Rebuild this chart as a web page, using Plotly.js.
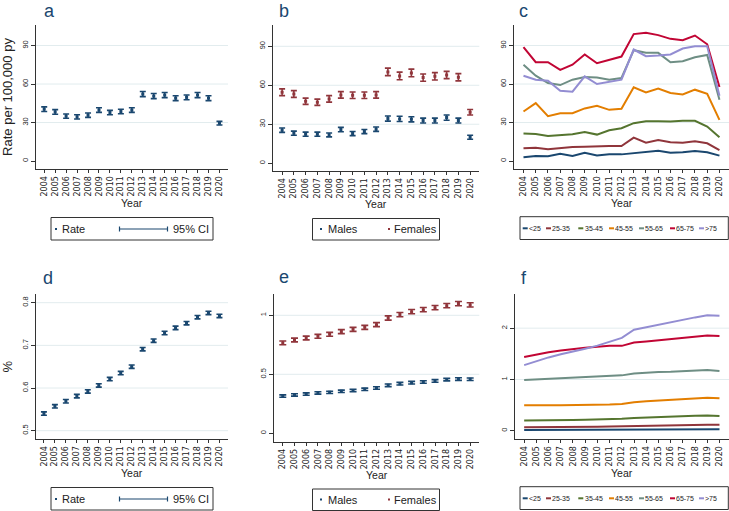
<!DOCTYPE html>
<html><head><meta charset="utf-8">
<script src="https://cdn.plot.ly/plotly-3.0.1.min.js"></script>
<style>html,body{margin:0;padding:0;background:#fff}#chart{width:729px;height:511px}</style>
</head><body><div id="chart"></div>
<script>
// ---------- data ----------
const years = [2004,2005,2006,2007,2008,2009,2010,2011,2012,2013,2014,2015,2016,2017,2018,2019,2020];
const yearLabels = years.map(String);

// panel a: overall rate per 100,000 py
const rateA = [40.4,38.3,35.0,34.4,35.7,39.7,37.8,38.6,39.7,52.2,50.6,51.4,49.0,49.6,51.4,49.0,29.5];
const ciA   = [1.8,1.8,1.7,1.7,1.7,1.8,1.7,1.7,1.8,2.0,2.0,2.0,1.9,1.9,2.0,1.9,1.4];

// panel b: by sex
const malesB     = [25.4,23.1,22.3,22.3,21.8,25.9,22.8,24.4,26.2,34.4,34.1,33.8,32.8,32.8,35.1,32.8,20.0];
const ciMalesB   = [1.7,1.6,1.6,1.6,1.5,1.7,1.6,1.6,1.7,2.0,2.0,2.0,1.9,1.9,2.0,1.9,1.5];
const femalesB   = [54.6,53.3,47.7,46.9,49.5,52.6,52.3,52.3,52.6,70.3,67.2,69.5,65.9,66.9,67.9,66.2,39.2];
const ciFemalesB = [2.6,2.6,2.4,2.4,2.5,2.5,2.5,2.5,2.5,2.9,2.9,2.9,2.8,2.8,2.8,2.8,2.1];

// panel c: by age group
const ageGroups = ['<25','25-35','35-45','45-55','55-65','65-75','>75'];
const c_lt25  = [2.9,3.9,3.7,5.7,3.9,6.5,4.4,5.2,5.2,6.3,7.3,8.1,6.5,6.8,7.8,6.8,4.2];
const c_25_35 = [9.9,10.4,9.1,10.2,11.0,11.2,11.7,11.7,11.7,18.3,14.3,16.4,14.6,14.3,15.4,13.8,8.6];
const c_35_45 = [21.4,21.1,19.6,20.1,20.9,22.7,20.6,24.0,25.6,29.5,31.0,31.0,30.8,31.3,31.3,26.9,18.5];
const c_45_55 = [38.6,45.1,35.0,37.3,37.3,41.0,43.0,39.9,40.7,57.4,53.5,56.4,53.0,51.9,55.6,52.4,32.1];
const c_55_65 = [75.1,66.5,60.8,59.2,63.4,65.5,65.0,63.4,64.7,86.4,84.3,84.3,77.0,77.7,80.9,82.7,47.7];
const c_65_75 = [88.7,77.0,77.0,71.0,75.1,83.0,76.2,79.0,81.4,98.9,99.9,98.1,95.2,94.2,97.8,91.0,57.7];
const c_gt75  = [66.5,63.4,62.6,54.8,54.0,66.0,60.0,61.6,63.4,86.9,81.7,82.2,83.0,87.7,89.5,89.5,50.9];

// panel d: overall %
const rateD = [0.540,0.557,0.569,0.581,0.592,0.606,0.621,0.635,0.650,0.691,0.711,0.729,0.741,0.752,0.766,0.776,0.769];
const ciD   = [0.004,0.004,0.004,0.004,0.004,0.004,0.004,0.004,0.004,0.004,0.004,0.004,0.004,0.004,0.004,0.004,0.004];

// panel e: % by sex
const malesE     = [0.316,0.325,0.333,0.342,0.347,0.356,0.362,0.373,0.384,0.407,0.421,0.429,0.435,0.444,0.455,0.460,0.458];
const ciMalesE   = [0.010,0.010,0.010,0.010,0.010,0.010,0.010,0.010,0.010,0.011,0.011,0.011,0.011,0.011,0.011,0.011,0.011];
const femalesE   = [0.766,0.791,0.808,0.822,0.839,0.862,0.881,0.898,0.921,0.977,1.006,1.031,1.048,1.065,1.082,1.099,1.088];
const ciFemalesE = [0.016,0.016,0.016,0.016,0.016,0.017,0.017,0.017,0.017,0.018,0.018,0.018,0.018,0.018,0.018,0.018,0.018];

// panel f: % by age group
const f_lt25  = [0.015,0.015,0.016,0.017,0.018,0.018,0.019,0.02,0.02,0.022,0.023,0.024,0.025,0.026,0.027,0.028,0.028];
const f_25_35 = [0.07,0.07,0.07,0.075,0.075,0.08,0.08,0.085,0.09,0.10,0.105,0.11,0.115,0.115,0.12,0.12,0.12];
const f_35_45 = [0.20,0.20,0.20,0.205,0.21,0.215,0.22,0.23,0.235,0.25,0.26,0.275,0.28,0.29,0.295,0.30,0.29];
const f_45_55 = [0.50,0.505,0.50,0.50,0.50,0.50,0.505,0.51,0.52,0.555,0.575,0.59,0.605,0.615,0.63,0.645,0.635];
const f_55_65 = [0.99,1.00,1.01,1.02,1.03,1.045,1.06,1.07,1.08,1.115,1.135,1.145,1.15,1.16,1.17,1.185,1.165];
const f_65_75 = [1.44,1.49,1.53,1.565,1.595,1.62,1.64,1.655,1.655,1.72,1.74,1.765,1.79,1.81,1.83,1.855,1.845];
const f_gt75  = [1.28,1.36,1.43,1.49,1.54,1.60,1.66,1.73,1.81,1.97,2.02,2.07,2.12,2.16,2.21,2.25,2.24];

const ticksRate = [0,30,60,90];
const ticksD = [0.5,0.6,0.7,0.8];
const ticksE = [0,0.5,1];
const ticksF = [0,1,2];
const gridRate = [30,60,90];
const gridD = [0.5,0.6,0.7,0.8];
const gridE = [0.5,1];
const gridF = [1,2];

// ---------- style ----------
const NAVY='#1a476f', MAROON='#90353b';
const ageColors = ['#1a476f','#90353b','#55752f','#e37e00','#6e8e84','#c10534','#938dd2'];
const W=729, H=511;
const px = x => x/W, py = y => 1 - y/H;
const FONT = 'Liberation Sans, Arial, Helvetica, sans-serif';
const AX = '#333';

function xax(x0, x1, anchor){
  return {domain:[px(x0),px(x1)], anchor:anchor, range:[2003.25,2020.78],
    tickmode:'array', tickvals:years, ticktext:yearLabels, tickangle:-90,
    tickfont:{family:'DejaVu Sans, sans-serif', size:8, color:'#222'},
    ticks:'outside', ticklen:3, tickcolor:AX, tickwidth:1,
    showline:true, linecolor:AX, linewidth:1, showgrid:false, zeroline:false,
    title:{text:''}, fixedrange:true};
}
function yax(top, bottom, anchor, range, tv, title){
  return {domain:[py(bottom),py(top)], anchor:anchor, range:range,
    tickmode:'array', tickvals:tv, ticktext:tv.map(v=>String(v)), tickangle:-90,
    tickfont:{family:FONT, size:7.5, color:'#222'},
    ticks:'outside', ticklen:4, tickcolor:AX, tickwidth:1,
    showline:true, linecolor:AX, linewidth:1, showgrid:false, zeroline:false,
    title:{text:title||'', font:{family:FONT, size:13, color:'#222'}, standoff:9}, fixedrange:true};
}

function errTrace(y, ci, color, xa, ya, capw){
  return {type:'scatter', mode:'markers', x:years, y:y, xaxis:xa, yaxis:ya,
    marker:{color:color, size:3, symbol:'square'},
    error_y:{type:'data', array:ci, visible:true, color:color, thickness:1.6, width:capw||3},
    hoverinfo:'x+y', showlegend:false};
}
function lineTrace(y, color, xa, ya){
  return {type:'scatter', mode:'lines', x:years, y:y, xaxis:xa, yaxis:ya,
    line:{color:color, width:2}, showlegend:false};
}

const traces = [
  errTrace(rateA, ciA, NAVY, 'x', 'y'),
  errTrace(malesB, ciMalesB, NAVY, 'x2', 'y2'),
  errTrace(femalesB, ciFemalesB, MAROON, 'x2', 'y2'),
];
const cSeries = [c_lt25,c_25_35,c_35_45,c_45_55,c_55_65,c_65_75,c_gt75];
cSeries.forEach((s,i)=>traces.push(lineTrace(s, ageColors[i], 'x3', 'y3')));
traces.push(errTrace(rateD, ciD, NAVY, 'x4', 'y4'));
traces.push(errTrace(malesE, ciMalesE, NAVY, 'x5', 'y5', 3.5));
traces.push(errTrace(femalesE, ciFemalesE, MAROON, 'x5', 'y5', 3.5));
const fSeries = [f_lt25,f_25_35,f_35_45,f_45_55,f_55_65,f_65_75,f_gt75];
fSeries.forEach((s,i)=>traces.push(lineTrace(s, ageColors[i], 'x6', 'y6')));

const shapes = [];
const annotations = [];

// gridlines (not drawn at 0)
function grid(vals, xa, ya){
  vals.forEach(v=>shapes.push({type:'line', layer:'below', xref:xa+' domain', yref:ya, x0:0, x1:1, y0:v, y1:v,
    line:{color:'#e2ecee', width:1}}));
}
grid(gridRate,'x','y'); grid(gridRate,'x2','y2'); grid(gridRate,'x3','y3');
grid(gridD,'x4','y4'); grid(gridE,'x5','y5'); grid(gridF,'x6','y6');

// x-axis titles "Year"
[['x',202.5],['x2',204.5],['x3',202.5],['x4',473],['x5',475],['x6',473]].forEach(p=>{
  annotations.push({text:'Year', xref:p[0]+' domain', x:0.5, yref:'paper', y:py(p[1]), xanchor:'center', yanchor:'middle',
    showarrow:false, borderpad:0, font:{family:FONT, size:10.5, color:'#222'}});
});

// panel letters
[['a',43,0],['b',278,0],['c',518,0],['d',42,267],['e',278,266],['f',520,267]].forEach(p=>{
  annotations.push({text:p[0], x:px(p[1]), y:py(p[2]), xref:'paper', yref:'paper', xanchor:'left', yanchor:'top',
    showarrow:false, borderpad:0, font:{family:FONT, size:18, color:NAVY}});
});

function txt(t, x, y, size){
  annotations.push({text:t, x:px(x), y:py(y), xref:'paper', yref:'paper', xanchor:'left', yanchor:'middle',
    showarrow:false, font:{family:FONT, size:size, color:'#222'}, borderpad:0});
}
function box(x0,y0,x1,y1){
  shapes.push({type:'rect', xref:'paper', yref:'paper', x0:px(x0), x1:px(x1), y0:py(y0), y1:py(y1),
    line:{color:'#333', width:1}, fillcolor:'rgba(0,0,0,0)'});
}
function dot(x,y,color){
  shapes.push({type:'rect', xref:'paper', yref:'paper', x0:px(x-1), x1:px(x+1), y0:py(y-1), y1:py(y+1),
    line:{width:0}, fillcolor:color});
}
function seg(x0,y0,x1,y1,color,w){
  shapes.push({type:'line', xref:'paper', yref:'paper', x0:px(x0), x1:px(x1), y0:py(y0), y1:py(y1),
    line:{color:color, width:w}});
}

// legends a & d
function legendRateCI(dy){
  box(51, 217.5+dy, 213, 240+dy);
  dot(56, 229+dy, NAVY); txt('Rate', 61, 229+dy, 11);
  seg(119.5, 229+dy, 167.5, 229+dy, NAVY, 1.2);
  seg(119.5, 226.5+dy, 119.5, 231.5+dy, NAVY, 1.2);
  seg(167.5, 226.5+dy, 167.5, 231.5+dy, NAVY, 1.2);
  txt('95% CI', 171.5, 229+dy, 11);
}
legendRateCI(0); legendRateCI(270);

// legends b & e
function legendSex(dy){
  box(312.5, 218.5+dy, 439.5, 240+dy);
  dot(321, 229+dy, NAVY); txt('Males', 326.5, 229+dy, 11);
  dot(389, 229+dy, MAROON); txt('Females', 392.5, 229+dy, 11);
}
legendSex(0); legendSex(270.5);

// legends c & f
const legLineX = [522.7,546,578.3,609,639,670,699];
function legendAge(dy){
  box(520, 216.7+dy, 728.3, 239.5+dy);
  ageGroups.forEach((g,i)=>{
    const x = legLineX[i];
    seg(x, 228.3+dy, x+5, 228.3+dy, ageColors[i], 2);
    txt(g, x+5.3, 228.3+dy, 7);
  });
}
legendAge(0); legendAge(270);

const layout = {
  width:W, height:H, margin:{l:0,r:0,t:0,b:0}, paper_bgcolor:'#fff', plot_bgcolor:'#fff',
  showlegend:false, font:{family:FONT, color:'#222'},
  xaxis:  xax(36, 228, 'y'),
  yaxis:  yax(25, 169, 'x', [-6.2,106], ticksRate, 'Rate per 100,000 py'),
  xaxis2: xax(273.3, 479.3, 'y2'),
  yaxis2: yax(25, 171, 'x2', [-6,106.4], ticksRate),
  xaxis3: xax(514.3, 729, 'y3'),
  yaxis3: yax(25, 169, 'x3', [-6.2,106], ticksRate),
  xaxis4: xax(35.7, 228, 'y4'),
  yaxis4: yax(294.3, 439, 'x4', [0.4805,0.8197], ticksD, '%'),
  xaxis5: xax(274, 479.3, 'y5'),
  yaxis5: yax(294.3, 441.7, 'x5', [-0.071,1.178], ticksE),
  xaxis6: xax(515, 729, 'y6'),
  yaxis6: yax(294.3, 439, 'x6', [-0.16,2.66], ticksF),
  shapes:shapes, annotations:annotations
};
Plotly.newPlot('chart', traces, layout, {displayModeBar:false, staticPlot:true});
</script></body></html>
